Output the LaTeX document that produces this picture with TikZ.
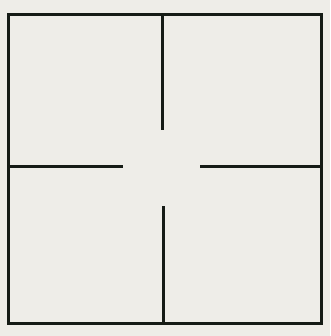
\documentclass[tikz,border=0pt]{standalone}
\definecolor{paper}{RGB}{238,237,232}
\definecolor{ink}{RGB}{22,28,22}
\begin{document}
\begin{tikzpicture}[x=1pt,y=-1pt,wall/.style={line width=3pt,draw=ink}]
\fill[paper] (0,0) rectangle (330,336);
\useasboundingbox (0,0) rectangle (330,336);
\draw[wall,line join=miter] (8,15) rectangle (321,323);
\draw[wall] (162,15) -- (162,130);
\draw[wall] (163,206) -- (163,323);
\draw[wall] (8,167) -- (123,167);
\draw[wall] (200,167) -- (321,167);
\end{tikzpicture}
\end{document}
